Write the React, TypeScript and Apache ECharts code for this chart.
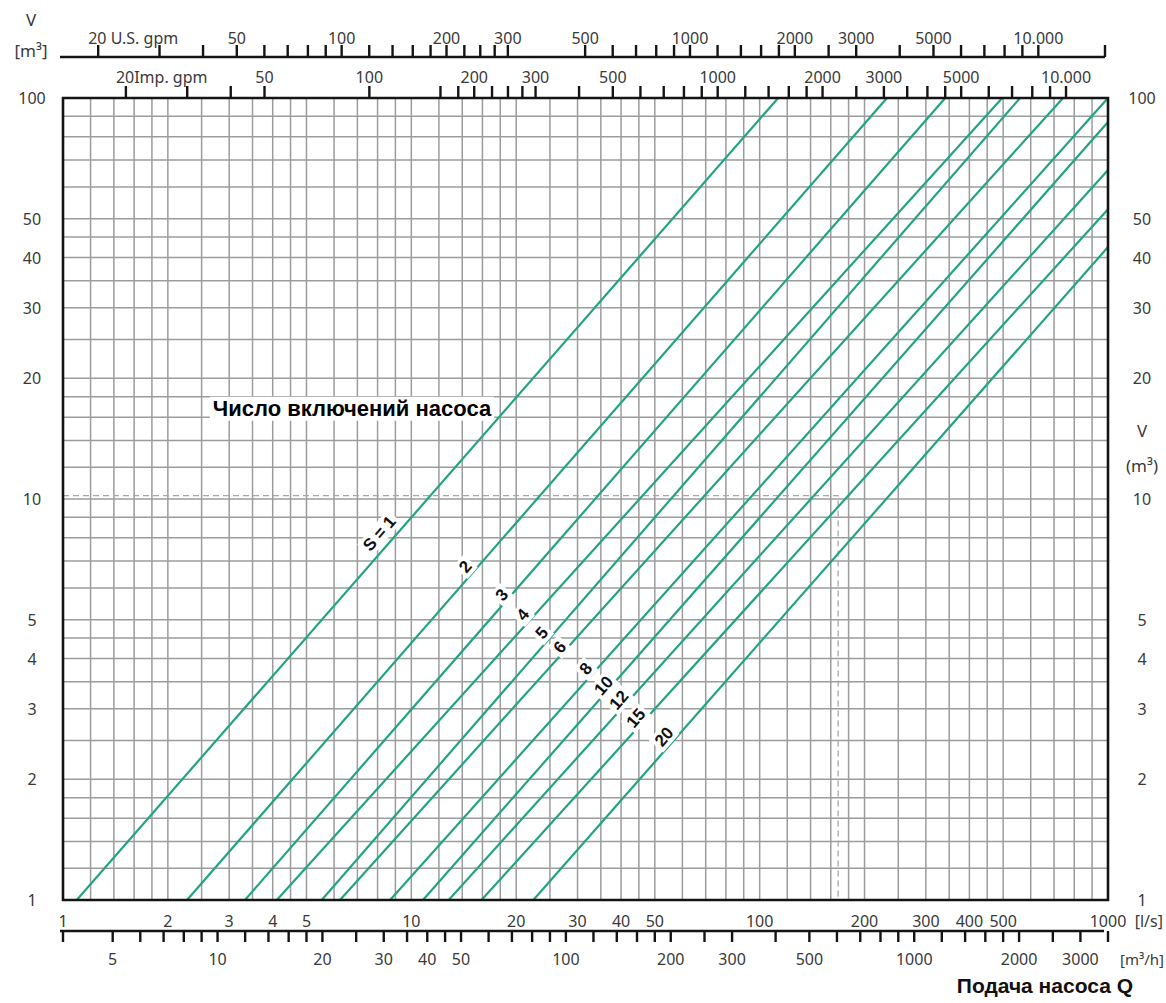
import React, { useEffect, useRef } from "react";
import * as echarts from "echarts";

// ---------------- data ----------------
// switching-frequency lines (V = f(Q)), start and end points in [l/s] / [m³]
const LINE_NAMES = ["S = 1", "2", "3", "4", "5", "6", "8", "10", "12", "15", "20"];
const LINE_START_Q = [1.095, 2.27, 3.33, 4.11, 5.53, 6.24, 8.69, 10.8, 12.8, 15.9, 22.4];
const LINE_START_V = [1, 1, 1, 1, 1, 1, 1, 1, 1, 1, 1];
const LINE_END_Q = [113, 232, 341, 497, 559, 743, 1000, 1000, 1000, 1000, 1000];
const LINE_END_V = [100, 100, 100, 100, 100, 100, 100, 87.1, 66.1, 52.8, 42.5];
// line label anchor points
const LABEL_Q = [8.1, 14.3, 18.2, 20.9, 23.7, 26.7, 31.7, 35.7, 39.5, 44.2, 53.2];
const LABEL_V = [8.2, 6.77, 5.76, 5.14, 4.63, 4.27, 3.77, 3.42, 3.15, 2.84, 2.55];

// dashed example reading
const DASH_Q = [1, 168, 168];
const DASH_V = [10.2, 10.2, 1];

// annotation
const ANNOT_TEXT = "Число включений насоса";
const ANNOT_Q = 2.64;
const ANNOT_V = 16.8;

// grid lines (mantissas inside each decade)
const GRID_STEPS = [1, 1.2, 1.4, 1.6, 1.8, 2, 2.5, 3, 3.5, 4, 4.5, 5, 6, 7, 8, 9];
const X_DECADES = [1, 10, 100];
const Y_DECADES = [1, 10];

// axis labels
const V_LABELS = [1, 2, 3, 4, 5, 10, 20, 30, 40, 50, 100];
const LPS_LABELS = [1, 2, 3, 4, 5, 10, 20, 30, 40, 50, 100, 200, 300, 400, 500, 1000];
const LPS_END_TICKS = [1, 1000];
const M3H_TICKS = [5, 6, 7, 8, 9, 10, 12, 14, 16, 18, 20, 25, 30, 35, 40, 45, 50, 60, 70, 80, 90, 100, 120, 140, 160, 180, 200, 250, 300, 400, 500, 600, 700, 800, 900, 1000, 1200, 1400, 1600, 1800, 2000, 2500, 3000];
const M3H_LABELS = [5, 10, 20, 30, 40, 50, 100, 200, 300, 500, 1000, 2000, 3000];
const USGPM_TICKS = [20, 30, 40, 50, 60, 70, 80, 90, 100, 120, 140, 160, 180, 200, 225, 250, 275, 300, 500, 600, 700, 800, 900, 1000, 1200, 1400, 1600, 1800, 2000, 2500, 3000, 4000, 5000, 6000, 7000, 8000, 9000, 10000];
const USGPM_LABELS = [20, 50, 100, 200, 300, 500, 1000, 2000, 3000, 5000, 10000];
const IMPGPM_TICKS = [20, 30, 40, 50, 100, 160, 180, 200, 225, 250, 275, 300, 400, 500, 600, 700, 800, 900, 1000, 1200, 1400, 1600, 1800, 2000, 2500, 3000, 3500, 4000, 4500, 5000, 6000, 7000, 8000, 9000, 10000];
const IMPGPM_LABELS = [20, 50, 100, 200, 300, 500, 1000, 2000, 3000, 5000, 10000];

// unit conversions relative to l/s
const M3H_PER_LPS = 3.6;
const USGPM_PER_LPS = 15.850;
const IMPGPM_PER_LPS = 13.198;

// ---------------- styles ----------------
const GREEN = "#22a384";
const GRID_COLOR = "#9c9c9c";
const INK = "#141414";
const TEXT = "#3a3a3a";
const FONT = '"Noto Sans", "Open Sans", sans-serif';
const BOLD_FONT = '"Liberation Sans", Arial, sans-serif';

const fmt = (v: number) => (v >= 10000 ? "10.000" : String(v));

const LN = (x1: number, y1: number, x2: number, y2: number, w = 2.2, color = INK) => ({
  type: "line",
  shape: { x1, y1, x2, y2 },
  style: { stroke: color, lineWidth: w },
});

const TX = (x: number, y: number, text: string, extra: any = {}) => ({
  type: "text",
  x,
  y,
  style: {
    text,
    fill: TEXT,
    font: `16px ${FONT}`,
    align: "center",
    verticalAlign: "middle",
    ...extra,
  },
});

function gridItem(_params: any, api: any) {
  const children: any[] = [];
  const yb = api.coord([1, 1])[1];
  const yt = api.coord([1, 100])[1];
  const x0 = api.coord([1, 1])[0];
  const x1 = api.coord([1000, 1])[0];
  X_DECADES.forEach((d) =>
    GRID_STEPS.forEach((m) => {
      const v = d * m;
      if (v <= 1) return;
      const x = api.coord([v, 1])[0];
      children.push(LN(x, yt, x, yb, 1.5, GRID_COLOR));
    })
  );
  Y_DECADES.forEach((d) =>
    GRID_STEPS.forEach((m) => {
      const v = d * m;
      if (v <= 1) return;
      const y = api.coord([1, v])[1];
      children.push(LN(x0, y, x1, y, 1.5, GRID_COLOR));
    })
  );
  return { type: "group", children };
}

function labelItem(params: any, api: any) {
  const q = api.value(0);
  const v = api.value(1);
  const p = api.coord([q, v]);
  const a = api.coord([1, 1]);
  const b = api.coord([10, 10]);
  const ang = Math.atan2(a[1] - b[1], b[0] - a[0]);
  return {
    type: "text",
    x: p[0],
    y: p[1],
    rotation: ang,
    style: {
      text: LINE_NAMES[params.dataIndex],
      fill: "#111",
      font: `bold 17px ${BOLD_FONT}`,
      align: "center",
      verticalAlign: "middle",
      backgroundColor: "#ffffff",
      padding: [1, 3, 1, 3],
    },
  };
}

function decorItem(_params: any, api: any) {
  const children: any[] = [];
  const [x0, yb] = api.coord([1, 1]);
  const [x1, yt] = api.coord([1000, 100]);

  // frame
  children.push({
    type: "rect",
    shape: { x: x0, y: yt, width: x1 - x0, height: yb - yt },
    style: { fill: "none", stroke: INK, lineWidth: 2.6 },
  });

  // V labels (both sides)
  V_LABELS.forEach((v) => {
    const y = api.coord([1, v])[1];
    children.push(TX(x0 - 31, y, String(v)));
    children.push(TX(x1 + 34, y, String(v)));
  });

  // bottom ruler: l/s labels above, m³/h ticks & labels below
  const yR = yb + 31;
  children.push(LN(x0 - 3, yR, x1 - 4, yR, 2.4));
  LPS_END_TICKS.forEach((q) => {
    const x = api.coord([q, 1])[0];
    children.push(LN(x, yR, x, yR + 11, 2.4));
  });
  M3H_TICKS.forEach((t) => {
    const x = api.coord([t / M3H_PER_LPS, 1])[0];
    children.push(LN(x, yR, x, yR + 11, 2.4));
  });
  LPS_LABELS.forEach((q) => {
    const x = api.coord([q, 1])[0];
    children.push(TX(x, yR - 10, String(q)));
  });
  children.push(TX(1163, yR - 10, "[l/s]", { align: "right" }));
  M3H_LABELS.forEach((t) => {
    const x = api.coord([t / M3H_PER_LPS, 1])[0];
    children.push(TX(x, yR + 28, String(t)));
  });
  children.push(TX(1164, yR + 28, "[m³/h]", { align: "right", font: `15px ${FONT}` }));

  // top rulers
  const yUS = yt - 41;
  children.push(LN(x0 - 3, yUS, x1 - 3, yUS, 2.4));
  children.push(LN(x1 - 3, yUS, x1 - 3, yUS - 12, 2.4));
  USGPM_TICKS.forEach((t) => {
    const x = api.coord([t / USGPM_PER_LPS, 1])[0];
    children.push(LN(x, yUS, x, yUS - 12, 2.4));
  });
  USGPM_LABELS.forEach((t, i) => {
    const x = api.coord([t / USGPM_PER_LPS, 1])[0];
    if (i === 0) children.push(TX(x - 10, yUS - 19, "20 U.S. gpm", { align: "left" }));
    else children.push(TX(x, yUS - 19, fmt(t)));
  });

  IMPGPM_TICKS.forEach((t) => {
    const x = api.coord([t / IMPGPM_PER_LPS, 1])[0];
    children.push(LN(x, yt, x, yt - 12, 2.4));
  });
  IMPGPM_LABELS.forEach((t, i) => {
    const x = api.coord([t / IMPGPM_PER_LPS, 1])[0];
    if (i === 0) children.push(TX(x - 10, yt - 21, "20Imp. gpm", { align: "left" }));
    else children.push(TX(x, yt - 21, fmt(t)));
  });

  // annotation
  const pa = api.coord([ANNOT_Q, ANNOT_V]);
  children.push({
    type: "text",
    x: pa[0],
    y: pa[1],
    style: {
      text: ANNOT_TEXT,
      fill: "#000",
      font: `bold 22px ${BOLD_FONT}`,
      align: "left",
      verticalAlign: "middle",
      backgroundColor: "#ffffff",
      padding: [1, 3, 1, 3],
    },
  });

  return { type: "group", children };
}

function buildOption() {
  const lineSeries = LINE_NAMES.map((name, i) => ({
    type: "line",
    name,
    data: [
      [LINE_START_Q[i], LINE_START_V[i]],
      [LINE_END_Q[i], LINE_END_V[i]],
    ],
    showSymbol: false,
    symbol: "none",
    silent: true,
    z: 3,
    lineStyle: { color: GREEN, width: 2.2 },
  }));

  const hiddenAxis = {
    axisLine: { show: false },
    axisTick: { show: false },
    axisLabel: { show: false },
    splitLine: { show: false },
  };

  const sideText = (x: number, y: number, text: string) => ({
    type: "text",
    x,
    y,
    style: {
      text,
      fill: TEXT,
      font: `17px ${FONT}`,
      align: "center",
      verticalAlign: "middle",
      textAlign: "center",
      textVerticalAlign: "middle",
    },
  });

  return {
    animation: false,
    backgroundColor: "#ffffff",
    grid: { left: 63, top: 98, right: 58, bottom: 103, show: false },
    xAxis: { type: "log", logBase: 10, min: 1, max: 1000, ...hiddenAxis },
    yAxis: { type: "log", logBase: 10, min: 1, max: 100, ...hiddenAxis },
    graphic: [
      sideText(31, 19, "V"),
      sideText(31, 50, "[m³]"),
      sideText(1142, 430, "V"),
      sideText(1142, 465, "(m³)"),
      {
        type: "text",
        right: 33,
        top: 975,
        style: { text: "Подача насоса Q", fill: "#111", font: `bold 21px ${BOLD_FONT}` },
      },
    ],
    series: [
      {
        type: "custom",
        name: "grid",
        silent: true,
        z: 1,
        data: [[10, 10]],
        renderItem: gridItem,
      },
      {
        type: "line",
        name: "reading",
        data: DASH_Q.map((q, i) => [q, DASH_V[i]]),
        symbol: "none",
        silent: true,
        z: 2,
        lineStyle: { color: "#a8a8a8", width: 1.3, type: [6, 4] },
      },
      ...lineSeries,
      {
        type: "custom",
        name: "labels",
        silent: true,
        z: 4,
        data: LABEL_Q.map((q, i) => [q, LABEL_V[i]]),
        renderItem: labelItem,
      },
      {
        type: "custom",
        name: "decor",
        silent: true,
        z: 5,
        clip: false,
        data: [[10, 10]],
        renderItem: decorItem,
      },
    ],
  };
}

export default function App() {
  const ref = useRef<HTMLDivElement>(null);
  useEffect(() => {
    document.body.style.margin = "0";
    const chart = echarts.init(ref.current as HTMLDivElement, null, { renderer: "svg" });
    chart.setOption(buildOption() as any);
    return () => chart.dispose();
  }, []);
  return <div ref={ref} style={{ width: 1166, height: 1003 }} />;
}
